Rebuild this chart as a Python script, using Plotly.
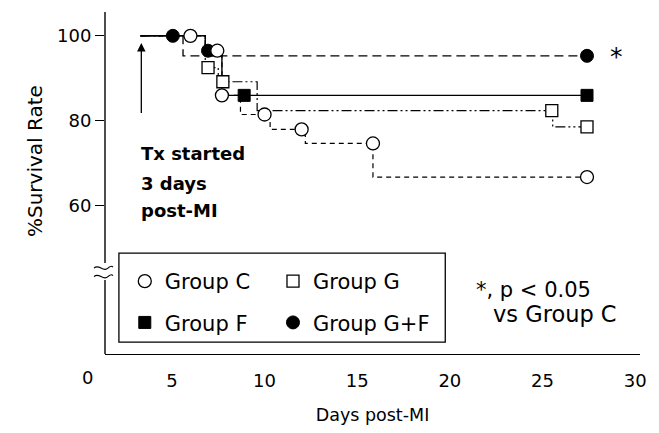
import plotly.graph_objects as go

# ---------------- data ----------------
# Step curves: day at which each survival level starts, and that level (%)
c_days = [3.3, 6.8, 7.7, 8.7, 10.3, 12.2, 15.85, 27.4]
c_surv = [100, 96.5, 86, 81.5, 78, 74.7, 66.8, 66.8]
g_days = [3.3, 6.8, 7.5, 9.6, 25.55, 27.4]
g_surv = [100, 92.5, 89.2, 82.4, 78.6, 78.6]
f_days = [3.3, 6.8, 7.7, 27.4]
f_surv = [100, 95.3, 86, 86]
gf_days = [3.3, 5.6, 27.4]
gf_surv = [100, 95.3, 95.3]

# Plotted symbols
c_mk_days = [6.0, 7.45, 7.7, 10.0, 12.0, 15.85, 27.4]
c_mk_surv = [100, 96.5, 86, 81.5, 78, 74.7, 66.8]
g_mk_days = [6.95, 7.75, 25.5, 27.4]
g_mk_surv = [92.5, 89.2, 82.4, 78.6]
f_mk_days = [8.9, 27.4]
f_mk_surv = [86, 86]
gf_mk_days = [5.05, 6.95, 27.4]
gf_mk_surv = [100, 96.5, 95.3]

x_ticks = [5, 10, 15, 20, 25, 30]
y_ticks = [60, 80, 100]
tx_start_day = 3.35

FONT = "DejaVu Sans"
BLACK = "black"

fig = go.Figure()

# step lines
fig.add_trace(go.Scatter(x=gf_days, y=gf_surv, mode="lines", line_shape="hv",
                         line=dict(color=BLACK, width=1.3, dash="9px,5px"),
                         showlegend=False, hoverinfo="skip"))
fig.add_trace(go.Scatter(x=g_days, y=g_surv, mode="lines", line_shape="hv",
                         line=dict(color=BLACK, width=1.2, dash="10px,3px,2px,3px,2px,3px"),
                         showlegend=False, hoverinfo="skip"))
fig.add_trace(go.Scatter(x=c_days, y=c_surv, mode="lines", line_shape="hv",
                         line=dict(color=BLACK, width=1.2, dash="5px,4px"),
                         showlegend=False, hoverinfo="skip"))
fig.add_trace(go.Scatter(x=f_days, y=f_surv, mode="lines", line_shape="hv",
                         line=dict(color=BLACK, width=1.4),
                         showlegend=False, hoverinfo="skip"))

# markers (also legend entries)
fig.add_trace(go.Scatter(x=gf_mk_days, y=gf_mk_surv, mode="markers", name="Group G+F",
                         marker=dict(symbol="circle", size=13, color=BLACK,
                                     line=dict(color=BLACK, width=1)),
                         legend="legend2", legendgroup="gf", legendrank=2))
fig.add_trace(go.Scatter(x=f_mk_days, y=f_mk_surv, mode="markers", name="Group F",
                         marker=dict(symbol="square", size=12, color=BLACK,
                                     line=dict(color=BLACK, width=1)),
                         legend="legend", legendgroup="f", legendrank=2))
fig.add_trace(go.Scatter(x=g_mk_days, y=g_mk_surv, mode="markers", name="Group G",
                         marker=dict(symbol="square", size=12, color="white",
                                     line=dict(color=BLACK, width=1.3)),
                         legend="legend2", legendgroup="g", legendrank=1))
fig.add_trace(go.Scatter(x=c_mk_days, y=c_mk_surv, mode="markers", name="Group C",
                         marker=dict(symbol="circle", size=13, color="white",
                                     line=dict(color=BLACK, width=1.3)),
                         legend="legend", legendgroup="c", legendrank=1))

Y_TOP, Y_BOT = 105.6, 25.2
BREAK_HI, BREAK_LO = 46.6, 42.6

shapes = [
    # broken y axis line
    dict(type="line", xref="paper", yref="y", x0=0, x1=0, y0=Y_TOP, y1=BREAK_HI,
         line=dict(color=BLACK, width=1.4)),
    dict(type="line", xref="paper", yref="y", x0=0, x1=0, y0=BREAK_LO, y1=Y_BOT - 0.7,
         line=dict(color=BLACK, width=1.4)),
    # break marks
    dict(type="path", xref="paper", yref="y", xsizemode="pixel", ysizemode="pixel",
         xanchor=0, yanchor=45.4, path="M -11,0 C -6,5 -2,-5 3,0 C 5,2 7,2 8,1",
         line=dict(color=BLACK, width=1.1)),
    dict(type="path", xref="paper", yref="y", xsizemode="pixel", ysizemode="pixel",
         xanchor=0, yanchor=43.4, path="M -11,0 C -6,5 -2,-5 3,0 C 5,2 7,2 8,1",
         line=dict(color=BLACK, width=1.1)),
    # legend frame
    dict(type="rect", xref="paper", yref="paper", x0=0.026, x1=0.636, y0=0.035, y1=0.295,
         line=dict(color=BLACK, width=1.3), fillcolor="rgba(0,0,0,0)"),
]

annotations = [
    # treatment start arrow
    dict(x=tx_start_day, y=98.3, ax=tx_start_day, ay=81.5, xref="x", yref="y",
         axref="x", ayref="y", text="", showarrow=True, arrowhead=2, arrowsize=1.3,
         arrowwidth=1.3, arrowcolor=BLACK),
    dict(x=3.25, y=72.3, xref="x", yref="y", text="<b>Tx started</b>", showarrow=False,
         xanchor="left", yanchor="middle", font=dict(family=FONT, size=18, color=BLACK)),
    dict(x=3.25, y=65.4, xref="x", yref="y", text="<b>3 days</b>", showarrow=False,
         xanchor="left", yanchor="middle", font=dict(family=FONT, size=18, color=BLACK)),
    dict(x=3.25, y=58.9, xref="x", yref="y", text="<b>post-MI</b>", showarrow=False,
         xanchor="left", yanchor="middle", font=dict(family=FONT, size=18, color=BLACK)),
    # significance mark
    dict(x=gf_mk_days[-1], y=gf_mk_surv[-1], xref="x", yref="y", text="*", showarrow=False,
         xshift=29, yshift=-1, font=dict(family=FONT, size=25, color=BLACK)),
    dict(x=0.690, y=0.187, xref="paper", yref="paper", text="*, p < 0.05", showarrow=False,
         xanchor="left", yanchor="middle", font=dict(family=FONT, size=21, color=BLACK)),
    dict(x=0.722, y=0.117, xref="paper", yref="paper", text="vs Group C", showarrow=False,
         xanchor="left", yanchor="middle", font=dict(family=FONT, size=22.5, color=BLACK)),
    # origin label
    dict(x=-0.032, y=-0.07, xref="paper", yref="paper", text="0", showarrow=False,
         xanchor="center", yanchor="middle", font=dict(family=FONT, size=18, color=BLACK)),
    # y title
    dict(x=-0.131, y=0.564, xref="paper", yref="paper", text="%Survival Rate",
         textangle=-90, showarrow=False, xanchor="center", yanchor="middle",
         font=dict(family=FONT, size=20, color=BLACK)),
]

legend_common = dict(xanchor="left", yanchor="top", bgcolor="rgba(0,0,0,0)",
                     borderwidth=0, orientation="v", tracegroupgap=11,
                     traceorder="grouped", itemsizing="trace",
                     font=dict(family=FONT, size=21, color=BLACK))

# The page body keeps the browser's default 8px margin, so the figure is
# sized/positioned to compensate and land on the reference pixel grid.
fig.update_layout(
    width=651, height=425,
    margin=dict(l=97, r=19, t=4, b=79),
    paper_bgcolor="white", plot_bgcolor="white",
    font=dict(family=FONT, color=BLACK),
    xaxis=dict(range=[1.39, 30.26], tickvals=x_ticks, showline=True, linecolor=BLACK,
               linewidth=1.4, ticks="outside", ticklen=10, tickcolor="rgba(0,0,0,0)",
               tickfont=dict(family=FONT, size=18), showgrid=False, zeroline=False,
               title=dict(text="Days post-MI", standoff=18,
                          font=dict(family=FONT, size=17.5))),
    yaxis=dict(range=[Y_BOT, Y_TOP], tickvals=y_ticks, showline=False, ticks="outside",
               ticklen=9, tickwidth=1.3, tickcolor=BLACK, showgrid=False, zeroline=False,
               tickfont=dict(family=FONT, size=18)),
    shapes=shapes,
    annotations=annotations,
    legend=dict(x=0.037, y=0.272, **legend_common),
    legend2=dict(x=0.314, y=0.272, **legend_common),
    showlegend=True,
)

fig.write_html("out.html")
